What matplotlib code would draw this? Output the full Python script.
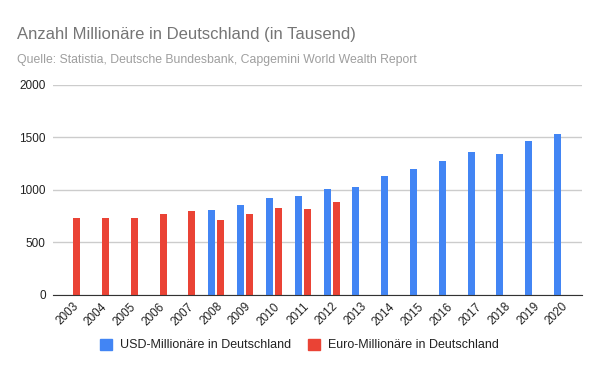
import numpy as np
import matplotlib.pyplot as plt
from matplotlib.patches import Patch

years = ['2003', '2004', '2005', '2006', '2007', '2008', '2009', '2010', '2011',
         '2012', '2013', '2014', '2015', '2016', '2017', '2018', '2019', '2020']
usd = [np.nan, np.nan, np.nan, np.nan, np.nan, 808, 855, 922, 941,
       1008, 1027, 1131, 1198, 1274, 1359, 1340, 1464, 1530]
euro = [729, 729, 729, 767, 798, 713, 767, 827, 817,
        884, np.nan, np.nan, np.nan, np.nan, np.nan, np.nan, np.nan, np.nan]
yticks = [0, 500, 1000, 1500, 2000]

blue = '#4285F4'
red = '#EA4335'
plt.rcParams['font.family'] = ['Liberation Sans', 'DejaVu Sans']

fig = plt.figure(figsize=(6, 3.71), dpi=100)
ax = fig.add_axes([0.0878, 0.2049, 0.8817, 0.566])

x = np.arange(len(years))
w = 0.243
off = 0.156
# years with only one series are drawn offset as in grouped layout
ax.bar(x - off, usd, width=w, color=blue, zorder=3)
ax.bar(x + off, euro, width=w, color=red, zorder=3)

ax.set_xlim(-0.677, 17.68)
ax.set_ylim(0, 2000)
ax.set_yticks(yticks)
ax.set_yticklabels([str(v) for v in yticks], fontsize=8.5, color='#222222')
ax.set_xticks(x)
ax.set_xticklabels(years, rotation=45, ha='right', rotation_mode='anchor',
                   fontsize=8.5, color='#222222')
ax.tick_params(axis='both', length=0)
ax.tick_params(axis='y', pad=5)
ax.tick_params(axis='x', pad=4)
ax.grid(axis='y', color='#cccccc', linewidth=1, zorder=0)
for s in ['top', 'right', 'left']:
    ax.spines[s].set_visible(False)
ax.spines['bottom'].set_color('#333333')
ax.spines['bottom'].set_zorder(4)

fig.text(17 / 600, 1 - 38.5 / 371, 'Anzahl Millionäre in Deutschland (in Tausend)',
         fontsize=12.0, color='#757575', ha='left', va='baseline')
fig.text(17 / 600, 1 - 63 / 371,
         'Quelle: Statistia, Deutsche Bundesbank, Capgemini World Wealth Report',
         fontsize=8.85, color='#9e9e9e', ha='left', va='baseline')

handles = [Patch(color=blue, label='USD-Millionäre in Deutschland'),
           Patch(color=red, label='Euro-Millionäre in Deutschland')]
fig.legend(handles=handles, loc='center', bbox_to_anchor=(299.5 / 600, 0.070),
           ncol=2, frameon=False, fontsize=9, handlelength=0.96,
           handleheight=0.96, handletextpad=0.64, columnspacing=1.36,
           labelcolor='#222222')

plt.savefig('out.png', dpi=100)
